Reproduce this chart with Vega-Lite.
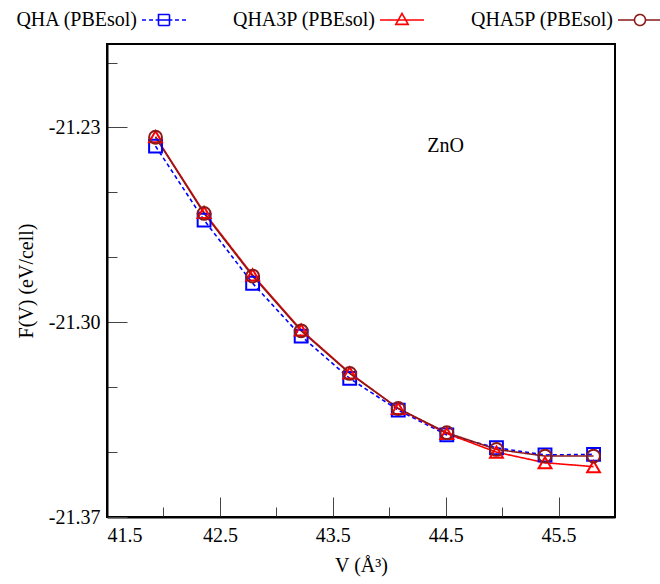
{
  "$schema": "https://vega.github.io/schema/vega-lite/v6.json",
  "width": 508,
  "height": 473,
  "autosize": {"type": "none"},
  "padding": {"left": 107, "top": 44, "right": 45, "bottom": 67},
  "background": "white",
  "config": {
    "view": {"stroke": "black", "strokeWidth": 2},
    "font": "'Liberation Serif', 'Times New Roman', serif",
    "text": {"font": "'Liberation Serif', 'Times New Roman', serif"},
    "axis": {
      "labelFont": "'Liberation Serif', 'Times New Roman', serif",
      "labelFontSize": 20,
      "labelColor": "black",
      "titleFont": "'Liberation Serif', 'Times New Roman', serif",
      "titleFontSize": 20,
      "titleFontWeight": "normal",
      "titleColor": "black",
      "domainColor": "black",
      "domainWidth": 2,
      "tickColor": "#444444",
      "tickWidth": 1,
      "grid": false
    },
    "legend": {
      "labelFont": "'Liberation Serif', 'Times New Roman', serif"
    }
  },
  "data": {
    "values": [
      {"series": "QHA (PBEsol)", "V": 41.93, "F": -21.2367},
      {"series": "QHA (PBEsol)", "V": 42.36, "F": -21.2633},
      {"series": "QHA (PBEsol)", "V": 42.79, "F": -21.2860},
      {"series": "QHA (PBEsol)", "V": 43.22, "F": -21.3050},
      {"series": "QHA (PBEsol)", "V": 43.65, "F": -21.3202},
      {"series": "QHA (PBEsol)", "V": 44.08, "F": -21.3316},
      {"series": "QHA (PBEsol)", "V": 44.51, "F": -21.3405},
      {"series": "QHA (PBEsol)", "V": 44.95, "F": -21.3451},
      {"series": "QHA (PBEsol)", "V": 45.38, "F": -21.3477},
      {"series": "QHA (PBEsol)", "V": 45.81, "F": -21.3475},
      {"series": "QHA3P (PBEsol)", "V": 41.93, "F": -21.2333},
      {"series": "QHA3P (PBEsol)", "V": 42.36, "F": -21.2605},
      {"series": "QHA3P (PBEsol)", "V": 42.79, "F": -21.2830},
      {"series": "QHA3P (PBEsol)", "V": 43.22, "F": -21.3028},
      {"series": "QHA3P (PBEsol)", "V": 43.65, "F": -21.3182},
      {"series": "QHA3P (PBEsol)", "V": 44.08, "F": -21.3310},
      {"series": "QHA3P (PBEsol)", "V": 44.51, "F": -21.3400},
      {"series": "QHA3P (PBEsol)", "V": 44.95, "F": -21.3467},
      {"series": "QHA3P (PBEsol)", "V": 45.38, "F": -21.3505},
      {"series": "QHA3P (PBEsol)", "V": 45.81, "F": -21.3519},
      {"series": "QHA5P (PBEsol)", "V": 41.93, "F": -21.2335},
      {"series": "QHA5P (PBEsol)", "V": 42.36, "F": -21.2609},
      {"series": "QHA5P (PBEsol)", "V": 42.79, "F": -21.2834},
      {"series": "QHA5P (PBEsol)", "V": 43.22, "F": -21.3031},
      {"series": "QHA5P (PBEsol)", "V": 43.65, "F": -21.3184},
      {"series": "QHA5P (PBEsol)", "V": 44.08, "F": -21.3310},
      {"series": "QHA5P (PBEsol)", "V": 44.51, "F": -21.3397},
      {"series": "QHA5P (PBEsol)", "V": 44.95, "F": -21.3457},
      {"series": "QHA5P (PBEsol)", "V": 45.38, "F": -21.3481},
      {"series": "QHA5P (PBEsol)", "V": 45.81, "F": -21.3481}
    ]
  },
  "encoding": {
    "x": {
      "field": "V",
      "type": "quantitative",
      "scale": {"domain": [41.5, 46.0], "nice": false, "zero": false},
      "axis": {
        "title": "V (Å³)",
        "values": [41.5, 42, 42.5, 43, 43.5, 44, 44.5, 45, 45.5],
        "labelExpr": "datum.value % 1 == 0 ? '' : format(datum.value, '.1f')",
        "tickSize": {"condition": {"test": "datum.value % 1 == 0", "value": -10}, "value": -20},
        "labelPadding": 28,
        "titlePadding": 10
      }
    },
    "y": {
      "field": "F",
      "type": "quantitative",
      "scale": {"domain": [-21.37, -21.20], "nice": false, "zero": false},
      "axis": {
        "title": "F(V) (eV/cell)",
        "values": [-21.37, -21.3467, -21.3233, -21.30, -21.2767, -21.2533, -21.23, -21.2067],
        "labelExpr": "abs(datum.value*100 - round(datum.value*100)) > 0.01 ? '' : '-' + format(-datum.value, '.2f')",
        "tickSize": {"condition": {"test": "abs(datum.value*100 - round(datum.value*100)) > 0.01", "value": -10}, "value": -20},
        "labelPadding": 27,
        "titlePadding": 12
      }
    }
  },
  "layer": [
    {
      "mark": {"type": "line", "strokeWidth": 1.6},
      "encoding": {
        "color": {
          "field": "series",
          "type": "nominal",
          "scale": {"domain": ["QHA (PBEsol)", "QHA3P (PBEsol)", "QHA5P (PBEsol)"], "range": ["#0000ff", "#ff0000", "#8b1a1a"]},
          "legend": {
            "title": null,
            "orient": "none",
            "direction": "horizontal",
            "legendX": 34,
            "legendY": -47,
            "symbolSize": 1936,
            "labelFont": "'Liberation Serif', 'Times New Roman', serif",
            "labelFontSize": 20,
            "labelColor": "black",
            "labelAlign": "right",
            "labelOffset": -50,
            "labelLimit": 400,
            "columnPadding": 42,
            "encode": {
              "symbols": {
                "update": {
                  "shape": {"signal": "datum.value == 'QHA (PBEsol)' ? 'M-1,0H-0.82M-0.68,0H-0.5M-0.38,0H-0.25M0.25,0H0.38M0.5,0H0.68M0.82,0H1M-0.25,-0.25H0.25V0.25H-0.25ZM-0.25,0H0.25' : (datum.value == 'QHA3P (PBEsol)' ? 'M-1,0H1M0,-0.3L0.28,0.2H-0.28Z' : 'M-1,0H-0.25M0.25,0H1M-0.25,0A0.25,0.25 0 1,0 0.25,0A0.25,0.25 0 1,0 -0.25,0')"},
                  "size": {"value": 1936},
                  "strokeDash": {"value": [1, 0]},
                  "fill": {"value": "transparent"},
                  "strokeWidth": {"value": 1.6}
                }
              }
            }
          }
        },
        "strokeDash": {
          "condition": {"test": "datum.series == 'QHA (PBEsol)'", "value": [4, 3]},
          "value": [1, 0]
        }
      }
    },
    {
      "mark": {"type": "point", "filled": false, "strokeWidth": 2, "opacity": 1, "size": 165},
      "encoding": {
        "color": {"field": "series", "type": "nominal"},
        "shape": {
          "condition": [
            {"test": "datum.series == 'QHA (PBEsol)'", "value": "square"},
            {"test": "datum.series == 'QHA3P (PBEsol)'", "value": "triangle-up"}
          ],
          "value": "circle"
        }
      }
    },
    {
      "data": {"values": [{"label": "ZnO", "V": 44.5, "F": -21.2367}]},
      "mark": {"type": "text", "fontSize": 20, "font": "'Liberation Serif', 'Times New Roman', serif", "color": "black"},
      "encoding": {"text": {"field": "label"}}
    }
  ]
}
